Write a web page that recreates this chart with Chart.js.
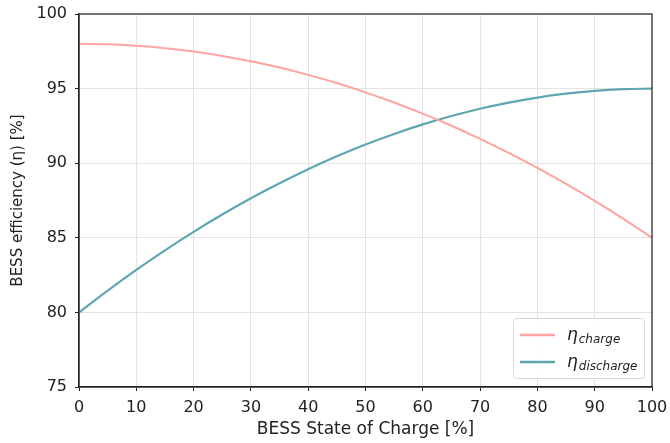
<!DOCTYPE html>
<html>
<head>
<meta charset="utf-8">
<script src="https://cdn.jsdelivr.net/npm/chart.js@4.4.1/dist/chart.umd.min.js"></script>
<style>
  html, body { margin: 0; padding: 0; background: #fff; }
  #wrap { width: 670px; height: 443px; }
</style>
</head>
<body>
<div id="wrap"><canvas id="effChart" width="670" height="443"></canvas></div>
<script>
// Datos
const socValues = [0, 5, 10, 15, 20, 25, 30, 35, 40, 45, 50, 55, 60, 65, 70, 75, 80, 85, 90, 95, 100];
const etaCharge = [98.0, 97.97, 97.87, 97.71, 97.48, 97.19, 96.83, 96.41, 95.92, 95.37, 94.75,
                   94.07, 93.32, 92.51, 91.63, 90.69, 89.68, 88.61, 87.47, 86.27, 85.0];
const etaDischarge = [80.0, 81.46, 82.85, 84.16, 85.4, 86.56, 87.65, 88.66, 89.6, 90.46, 91.25,
                      91.96, 92.6, 93.16, 93.65, 94.06, 94.4, 94.66, 94.85, 94.96, 95.0];
const xTicks = [0, 10, 20, 30, 40, 50, 60, 70, 80, 90, 100];
const yTicks = [75, 80, 85, 90, 95, 100];

const colorCharge = '#ffa3a3';
const colorDischarge = '#5fa7b0';
const fontFamily = '"DejaVu Sans", sans-serif';

function toPoints(xs, ys) {
    return xs.map((x, i) => ({ x: x, y: ys[i] }));
}

// Marco completo (spines de arriba y derecha)
const framePlugin = {
    id: 'frame',
    afterDatasetsDraw(chart) {
        const { ctx, chartArea: a } = chart;
        ctx.save();
        ctx.strokeStyle = '#222';
        ctx.lineWidth = 1.2;
        ctx.strokeRect(a.left, a.top, a.right - a.left, a.bottom - a.top);
        ctx.restore();
    }
};

// Leyenda con subindices
const legendPlugin = {
    id: 'subLegend',
    afterDraw(chart) {
        const { ctx, chartArea: a } = chart;
        const w = 131, h = 60;
        const x0 = a.right - 8 - w, y0 = a.bottom - 9 - h;
        ctx.save();
        ctx.fillStyle = 'rgba(255,255,255,0.85)';
        ctx.strokeStyle = '#d8d8d8';
        ctx.lineWidth = 1;
        ctx.beginPath();
        ctx.roundRect(x0 + 0.5, y0 + 0.5, w, h, 3);
        ctx.fill();
        ctx.stroke();

        const items = [
            { color: colorCharge, sub: 'charge' },
            { color: colorDischarge, sub: 'discharge' }
        ];
        items.forEach((it, i) => {
            const cy = y0 + 17 + i * 27;
            ctx.strokeStyle = it.color;
            ctx.lineWidth = 2.5;
            ctx.beginPath();
            ctx.moveTo(x0 + 7, cy);
            ctx.lineTo(x0 + 42, cy);
            ctx.stroke();
            ctx.fillStyle = '#222';
            ctx.textBaseline = 'alphabetic';
            ctx.font = 'italic 17px ' + fontFamily;
            ctx.fillText('η', x0 + 54, cy + 5);
            const etaW = ctx.measureText('η').width;
            ctx.font = 'italic 12px ' + fontFamily;
            ctx.fillText(it.sub, x0 + 55 + etaW, cy + 8);
        });
        ctx.restore();
    }
};

const ctx = document.getElementById('effChart').getContext('2d');
const effChart = new Chart(ctx, {
    type: 'line',
    data: {
        datasets: [
            {
                label: 'η charge',
                data: toPoints(socValues, etaCharge),
                borderColor: colorCharge,
                borderWidth: 2,
                pointRadius: 0,
                cubicInterpolationMode: 'monotone',
                fill: false
            },
            {
                label: 'η discharge',
                data: toPoints(socValues, etaDischarge),
                borderColor: colorDischarge,
                borderWidth: 2.2,
                pointRadius: 0,
                cubicInterpolationMode: 'monotone',
                fill: false
            }
        ]
    },
    options: {
        responsive: false,
        animation: false,
        events: [],
        layout: { padding: { top: 14, right: 18, left: 0, bottom: 0 } },
        plugins: {
            legend: { display: false },
            tooltip: { enabled: false }
        },
        scales: {
            x: {
                type: 'linear',
                min: 0,
                max: 100,
                afterBuildTicks: s => { s.ticks = xTicks.map(v => ({ value: v })); },
                afterFit: s => { s.height = 56; s.paddingLeft = 0; s.paddingRight = 0; },
                grid: { color: '#e3e3e3', lineWidth: 1, tickColor: '#222', tickLength: 4 },
                border: { color: '#222', width: 1.2 },
                ticks: { color: '#222', font: { family: fontFamily, size: 16 }, padding: 7, maxRotation: 0 },
                title: {
                    display: true,
                    text: 'BESS State of Charge [%]',
                    color: '#222',
                    font: { family: fontFamily, size: 17 },
                    padding: { top: 0, bottom: 3 }
                }
            },
            y: {
                type: 'linear',
                min: 75,
                max: 100,
                afterBuildTicks: s => { s.ticks = yTicks.map(v => ({ value: v })); },
                afterFit: s => { s.width = 79; s.paddingTop = 0; s.paddingBottom = 0; },
                grid: { color: '#e3e3e3', lineWidth: 1, tickColor: '#222', tickLength: 4 },
                border: { color: '#222', width: 1.2 },
                ticks: { color: '#222', font: { family: fontFamily, size: 16 }, padding: 8 },
                title: {
                    display: true,
                    text: 'BESS efficiency (η) [%]',
                    color: '#222',
                    font: { family: fontFamily, size: 15 },
                    padding: { top: 9, bottom: 0 }
                }
            }
        }
    },
    plugins: [framePlugin, legendPlugin]
});
</script>
</body>
</html>
